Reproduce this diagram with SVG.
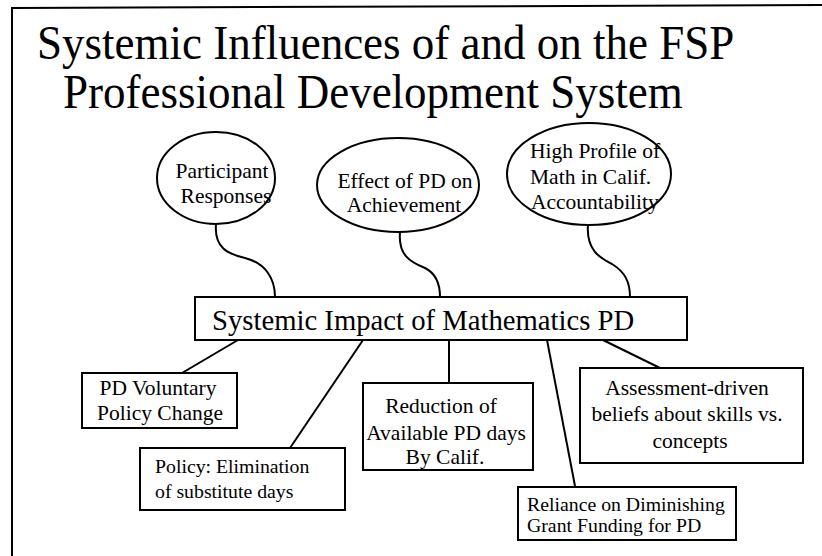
<svg xmlns="http://www.w3.org/2000/svg" width="822" height="556" viewBox="0 0 822 556">
<style>
text{font-family:'Liberation Serif','Times New Roman',serif;fill:#000}
.t{font-size:45px}
.m{font-size:28.7px}
.s{font-size:21.5px}
.r{font-size:19.8px}
.b{fill:#fff;stroke:#000;stroke-width:2}
.c{fill:none;stroke:#000;stroke-width:2}
</style>
<rect width="822" height="556" fill="#fff"/>
<g id="frame">
<path class="c" d="M12 556 V8 L822 5"/>
</g>
<g id="title">
<text class="t" transform="translate(37,59) scale(1,1.08)">Systemic Influences of and on the FSP</text>
<text class="t" transform="translate(63,108) scale(1,1.08)">Professional Development System</text>
</g>
<g id="connectors">
<path class="c" d="M216 224 C214 248 228 254 245 258 C265 263 275 278 275 297"/>
<path class="c" d="M400 232 C398 255 410 262 425 268 C437 274 440 285 440 297"/>
<path class="c" d="M588 225 C586 250 600 258 612 264 C625 272 630 282 630 297"/>
<path class="c" d="M238 340 L182 373"/>
<path class="c" d="M363 340 L290 448"/>
<path class="c" d="M449 340 L449 383"/>
<path class="c" d="M547 340 L575 486"/>
<path class="c" d="M603 340 L660 368"/>
</g>
<g id="n-participant">
<ellipse class="b" cx="216" cy="178" rx="59" ry="46"/>
<text class="s" x="222" y="178" text-anchor="middle">Participant</text>
<text class="s" x="226" y="203" text-anchor="middle">Responses</text>
</g>
<g id="n-effect">
<ellipse class="b" cx="398" cy="185" rx="81" ry="47"/>
<text class="s" x="405" y="188" text-anchor="middle">Effect of PD on</text>
<text class="s" x="404" y="212" text-anchor="middle">Achievement</text>
</g>
<g id="n-highprofile">
<ellipse class="b" cx="589" cy="174" rx="82" ry="51"/>
<text class="s" x="530" y="158">High Profile of</text>
<text class="s" x="530" y="184">Math in Calif.</text>
<text class="s" x="531" y="209">Accountability</text>
</g>
<g id="n-main">
<rect class="b" x="195" y="297" width="492" height="43"/>
<text class="m" x="212" y="330">Systemic Impact of Mathematics PD</text>
</g>
<g id="n-voluntary">
<rect class="b" x="82" y="373" width="155" height="55"/>
<text class="s" x="158" y="395" text-anchor="middle">PD Voluntary</text>
<text class="s" x="160" y="420" text-anchor="middle">Policy Change</text>
</g>
<g id="n-policy">
<rect class="b" x="140" y="448" width="205" height="62"/>
<text class="r" x="155" y="473">Policy: Elimination</text>
<text class="r" x="155" y="498">of substitute days</text>
</g>
<g id="n-reduction">
<rect class="b" x="363" y="383" width="170" height="87"/>
<text class="s" x="441" y="413" text-anchor="middle">Reduction of</text>
<text class="s" x="446" y="440" text-anchor="middle">Available PD days</text>
<text class="s" x="445" y="464" text-anchor="middle">By Calif.</text>
</g>
<g id="n-reliance">
<rect class="b" x="518" y="487" width="218" height="53"/>
<text class="r" x="527" y="511">Reliance on Diminishing</text>
<text class="r" x="527" y="532">Grant Funding for PD</text>
</g>
<g id="n-assessment">
<rect class="b" x="580" y="368" width="223" height="95"/>
<text class="s" x="687" y="395" text-anchor="middle">Assessment-driven</text>
<text class="s" x="687" y="421" text-anchor="middle">beliefs about skills vs.</text>
<text class="s" x="690" y="448" text-anchor="middle">concepts</text>
</g>
</svg>
